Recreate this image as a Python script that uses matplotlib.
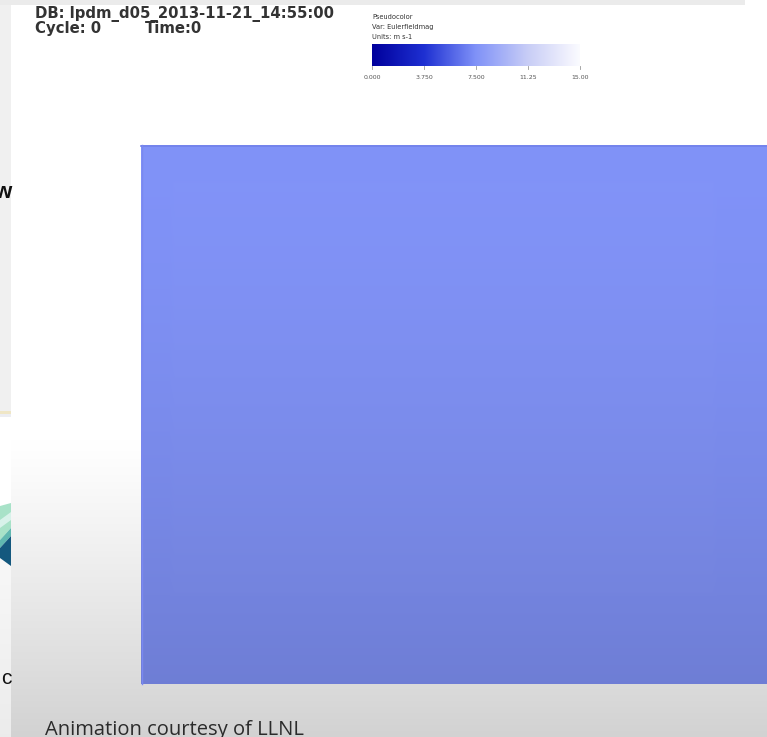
import numpy as np
import matplotlib
matplotlib.use('Agg')
import matplotlib.pyplot as plt
from matplotlib.colors import LinearSegmentedColormap, Normalize
from matplotlib.patches import Rectangle, Polygon

# pseudocolor field and its legend
db_name = 'DB: lpdm_d05_2013-11-21_14:55:00'
cycle_text = 'Cycle: 0'
time_text = 'Time:0'
legend_lines = ['Pseudocolor', 'Var: Eulerfieldmag', 'Units: m s-1']
vmin, vmax = 0.0, 15.0
tick_values = [0.0, 3.75, 7.5, 11.25, 15.0]
tick_labels = ['0.000', '3.750', '7.500', '11.25', '15.00']
# field values on the plotted domain (outer ring, inner block)
field_outer = 7.55
field_inner = 7.58
caption = 'Animation courtesy of LLNL'

W, H = 767, 737
fig = plt.figure(figsize=(W / 100, H / 100), dpi=100)
ax = fig.add_axes([0, 0, 1, 1])
ax.set_xlim(0, W)
ax.set_ylim(H, 0)
ax.axis('off')

# slide background: white top, fading to grey at the bottom
rows = np.linspace(0, 1, 200)
shade = np.clip((rows - 0.6) / 0.4, 0, 1) ** 1.1
bg = 1.0 - 0.175 * shade
bg_img = np.repeat(bg[:, None], 2, axis=1)
ax.imshow(np.dstack([bg_img] * 3), extent=(11, W, H, 0), aspect='auto',
          interpolation='bilinear', zorder=0)

# strip of the neighbouring slide on the left
ax.add_patch(Rectangle((0, 0), 11, 411, color='#f0f0f0', lw=0, zorder=1))
ax.add_patch(Rectangle((0, 411), 11, 2.5, color='#efe6c6', lw=0, zorder=1))
ax.add_patch(Rectangle((0, 413.5), 11, 3, color='#ecedf2', lw=0, zorder=1))
ax.add_patch(Rectangle((0, 416.5), 11, 90, color='#ffffff', lw=0, zorder=1))
low = np.linspace(0, 1, 100)
strip = 0.985 - 0.06 * low
ax.imshow(np.dstack([np.repeat(strip[:, None], 2, axis=1)] * 3),
          extent=(0, 11, H, 506), aspect='auto', zorder=1)
ax.add_patch(Polygon([(0, 506), (11, 503), (11, 528), (0, 540)],
                     color='#a8e2c8', lw=0, zorder=2))
ax.add_patch(Polygon([(0, 520), (11, 512), (11, 520), (0, 528)],
                     color='#d8f2ea', lw=0, zorder=2))
ax.add_patch(Polygon([(0, 540), (11, 528), (11, 536), (0, 548)],
                     color='#60b8b0', lw=0, zorder=2))
ax.add_patch(Polygon([(0, 548), (11, 536), (11, 566), (0, 558)],
                     color='#14587e', lw=0, zorder=2))
ax.text(11, 192, 'w', fontsize=16, color='#111111', va='center', ha='right',
        family='Liberation Sans', fontweight='bold', zorder=3)
ax.text(11, 679, 'c', fontsize=15, color='#111111', va='center', ha='right',
        family='Liberation Sans', zorder=3)

# title bar of the window
ax.add_patch(Rectangle((0, 0), 745, 4.5, color='#ebebeb', lw=0, zorder=1))

# colormap: dark blue to white
cmap = LinearSegmentedColormap.from_list(
    'bw', ['#00009c', '#1e30d2', '#8092f8', '#c8cdf6', '#fbfbff'])
norm = Normalize(vmin, vmax)

# pseudocolor plot of the field, darker towards the bottom
x0, x1, y0, y1 = 141, W, 145, 684
ny, nx = 120, 120
field = np.full((ny, nx), field_outer)
field[8:100, 6:110] = field_inner
rgb = np.array(cmap(norm(field)))[..., :3]
t = np.linspace(0, 1, ny)
light = 1.0 - 0.14 * t ** 1.6
rgb = rgb * light[:, None, None]
ax.imshow(rgb, extent=(x0, x1, y1, y0), aspect='auto',
          interpolation='bilinear', zorder=2)
ax.plot([x0, x1], [y0 + 0.5, y0 + 0.5], color='#7282ea', lw=1.2, zorder=3)
ax.plot([x0 + 0.5, x0 + 0.5], [y0, y1], color='#7a88f0', lw=1.0, zorder=3)

# header text
hdr = dict(fontsize=10.7, color='#333333', va='center', ha='left',
           family='DejaVu Sans', fontweight='semibold', zorder=4)
ax.text(35, 14, db_name, **hdr)
ax.text(35, 28, cycle_text, **hdr)
ax.text(145, 28, time_text, **hdr)

# legend
cb_x0, cb_x1, cb_y0, cb_y1 = 372, 580, 44, 66
for i, line in enumerate(legend_lines):
    ax.text(cb_x0, 17 + 10 * i, line, fontsize=4.8, color='#333333',
            va='center', ha='left', zorder=4)
grad = np.linspace(vmin, vmax, 256)[None, :]
ax.imshow(cmap(norm(grad)), extent=(cb_x0, cb_x1, cb_y1, cb_y0),
          aspect='auto', zorder=4)
for v, lab in zip(tick_values, tick_labels):
    tx = cb_x0 + (cb_x1 - cb_x0) * norm(v)
    ax.plot([tx, tx], [cb_y1, cb_y1 + 3], color='#999999', lw=0.6, zorder=4)
    ax.text(tx, 77, lab, fontsize=4.5, color='#555555', ha='center',
            va='center', zorder=4)

# caption at the bottom of the slide
ax.text(45, 720, caption, fontsize=14.5, color='#2b2b2b', va='top', ha='left',
        family='Open Sans', zorder=4)

fig.savefig('out.png', dpi=100)
